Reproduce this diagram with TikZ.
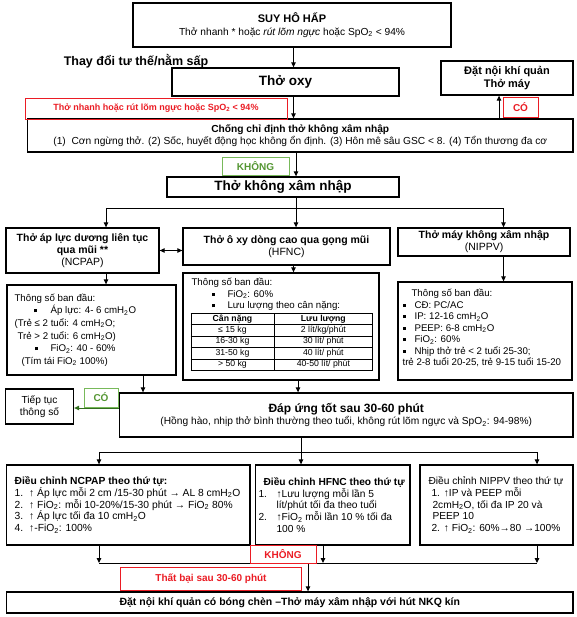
\documentclass[tikz,border=0pt]{standalone}
\usepackage{fontspec}
\setmainfont{Liberation Sans}
\usepackage{array}
\usetikzlibrary{arrows.meta}
\newcommand{\fsz}[2]{\fontsize{#1}{#2}\selectfont}
\newcommand{\bul}{\rule[1.5pt]{3pt}{3pt}}
\newcommand{\two}{\textsubscript{2}}
\definecolor{myred}{RGB}{235,28,36}
\definecolor{mygreen}{RGB}{84,150,50}
\definecolor{mygreenline}{RGB}{120,185,90}
\definecolor{mydkgreen}{RGB}{50,110,30}
\tikzset{
 box/.style={draw=black, line width=1.3pt, inner sep=0pt, align=center, font=\fsz{10.2}{12}},
 sz/.style 2 args={minimum width=#1pt, minimum height=#2pt},
 redbox/.style={draw=myred, line width=0.9pt, inner sep=0pt, text=myred, font=\bfseries\fsz{10}{12}},
 grnbox/.style={draw=mygreenline, line width=0.9pt, inner sep=0pt, text=mygreen, font=\bfseries\fsz{10}{12}},
 txt/.style={inner sep=0pt, align=left, anchor=west},
 arr/.style={line width=1pt, -{Triangle[length=5pt,width=4.5pt]}},
 darr/.style={line width=1pt, {Triangle[length=5pt,width=4.5pt]}-{Triangle[length=5pt,width=4.5pt]}},
 ln/.style={line width=1pt},
}
\begin{document}
\begin{tikzpicture}[x=1pt,y=-1pt]
\fill[white] (0,0) rectangle (576,617);
\useasboundingbox (0,0) rectangle (576,617);

% ---------- top ----------
\node[box, sz={318}{44}] (suy) at (292,25) {{\bfseries\fsz{11}{13}SUY HÔ HẤP}\\[1pt]Thở nhanh * hoặc \textit{rút lõm ngực} hoặc SpO\two{} < 94\%};
\node[font=\bfseries\fsz{12.5}{15}, inner sep=0pt] (thay) at (136,61) {Thay đổi tư thế/nằm sấp};
\node[box, sz={227}{28}, font=\bfseries\fsz{13.5}{16}] (oxy) at (285.5,82) {Thở oxy};
\node[box, sz={132}{34}, font=\bfseries\fsz{11}{13.5}] (datnoi) at (507,78) {Đặt nội khí quản\\Thở máy};
\node[box, sz={545.5}{33}] (chong) at (300.25,135.5) {{\bfseries Chống chỉ định thở không xâm nhập}\\(1)\ \ Cơn ngừng thở. (2) Sốc, huyết động học không ổn định. (3) Hôn mê sâu GSC < 8. (4) Tổn thương đa cơ};
\node[box, sz={232}{20}, font=\bfseries\fsz{13.5}{16}] (tkxn) at (283,187) {Thở không xâm nhập};

% ---------- three methods ----------
\node[box, sz={153}{45}, font=\bfseries\fsz{10.5}{12}] (ncpap) at (82.5,250.5) {Thở áp lực dương liên tục\\qua mũi **\\{\mdseries (NCPAP)}};
\node[box, sz={207}{37}, font=\bfseries\fsz{10.5}{12.5}] (hfnc) at (286.5,246.5) {Thở ô xy dòng cao qua gọng mũi\\{\mdseries (HFNC)}};
\node[box, sz={172}{28}, font=\bfseries\fsz{10.5}{12}] (nippv) at (484,242) {Thở máy không xâm nhập\\{\mdseries (NIPPV)}};

% ---------- parameter boxes ----------
\node[box, sz={169}{90}] (ncpapP) at (91.5,330) {};
\node[txt, font=\fsz{9.7}{12.6}] (ncpapPt) at ([xshift=8pt]ncpapP.west) {Thông số ban đầu:\\
\hspace*{19pt}\bul\hspace*{14pt}Áp lực: 4- 6 cmH\two O\\
(Trẻ ≤ 2 tuổi: 4 cmH\two O;\\
\hspace*{3pt}Trẻ > 2 tuổi: 6 cmH\two O)\\
\hspace*{20pt}\bul\hspace*{13pt}FiO\two: 40 - 60\%\\
\hspace*{7pt}(Tím tái FiO\two{} 100\%)};

\node[box, sz={196}{107}] (hfncP) at (281,326.5) {};
\node[txt, font=\fsz{9.7}{11.5}] (hfncPt) at ([xshift=9pt,yshift=2pt]hfncP.west) {Thông số ban đầu:\\
\hspace*{20pt}\bul\hspace*{13pt}FiO\two: 60\%\\
\hspace*{20pt}\bul\hspace*{13pt}Lưu lượng theo cân nặng:\\[1pt]
\hspace*{-1pt}{\fsz{8.7}{10.6}\setlength{\tabcolsep}{2pt}\renewcommand{\arraystretch}{1.04}\begin{tabular}{|>{\centering\arraybackslash}p{79pt}|>{\centering\arraybackslash}p{94pt}|}\hline
\textbf{Cân nặng} & \textbf{Lưu lượng}\\\hline
≤ 15 kg\hfill & 2 lít/kg/phút\\\hline
16-30 kg & 30 lít/ phút\\\hline
31-50 kg & 40 lít/ phút\\\hline
> 50 kg & 40-50 lít/ phút\\\hline
\end{tabular}}};

\node[box, sz={174}{98}] (nippvP) at (485,331) {};
\node[txt, font=\fsz{9.7}{11.5}] (nippvPt) at ([xshift=5pt,yshift=3pt]nippvP.west) {\hspace*{9pt}Thông số ban đầu:\\
\bul\hspace*{9pt}CĐ: PC/AC\\
\bul\hspace*{9pt}IP: 12-16 cmH\two O\\
\bul\hspace*{9pt}PEEP: 6-8 cmH\two O\\
\bul\hspace*{9pt}FiO\two: 60\%\\
\bul\hspace*{9pt}Nhịp thở trẻ < 2 tuổi 25-30;\\
trẻ 2-8 tuổi 20-25, trẻ 9-15 tuổi 15-20};

% ---------- response ----------
\node[box, sz={68}{35}] (tiep) at (39.5,406.5) {Tiếp tục\\thông số};
\node[box, sz={453.5}{44}] (dapung) at (346.25,415) {{\bfseries\fsz{12}{14}Đáp ứng tốt sau 30-60 phút}\\(Hồng hào, nhịp thở bình thường theo tuổi, không rút lõm ngực và SpO\two: 94-98\%)};

% ---------- adjustment boxes ----------
\node[box, sz={243.4}{80}] (adjn) at (128.3,505) {};
\node[txt, font=\fsz{10.3}{11.8}] (adjnt) at ([xshift=8.5pt]adjn.west) {\textbf{Điều chỉnh NCPAP theo thứ tự:}\\
1.\hspace*{6pt}↑ Áp lực mỗi 2 cm /15-30 phút → AL 8 cmH\two O\\
2.\hspace*{6pt}↑ FiO\two: mỗi 10-20\%/15-30 phút → FiO\two{} 80\%\\
3.\hspace*{6pt}↑ Áp lực tối đa 10 cmH\two O\\
4.\hspace*{6pt}↑-FiO\two: 100\%};

\node[box, sz={154.5}{80}] (adjh) at (332.75,505) {};
\node[txt, font=\fsz{10.2}{11.8}] (adjht) at ([xshift=3.5pt]adjh.west) {\hspace*{5pt}\textbf{Điều chỉnh HFNC theo thứ tự}\\
\makebox[18pt][l]{1.}↑Lưu lượng mỗi lần 5\\
\hspace*{18pt}lít/phút tối đa theo tuổi\\
\makebox[18pt][l]{2.}↑FiO\two{} mỗi lần 10 \% tối đa\\
\hspace*{18pt}100 \%};

\node[box, sz={153}{80}] (adjv) at (496.5,505) {};
\node[txt, font=\fsz{10.2}{11.8}] (adjvt) at ([xshift=9pt]adjv.west) {Điều chỉnh NIPPV theo thứ tự\\
\hspace*{3pt}1. ↑IP và PEEP mỗi\\
\hspace*{4pt}2cmH\two O, tối đa IP 20 và\\
\hspace*{4pt}PEEP 10\\
\hspace*{3pt}2. ↑ FiO\two: 60\%→80 →100\%};

\node[box, sz={566.4}{21}, font=\bfseries\fsz{10.5}{12}] (final) at (289.8,602.5) {Đặt nội khí quản có bóng chèn –Thở máy xâm nhập với hút NKQ kín};

% ---------- connectors ----------
\coordinate (xa) at (293.5,0);
\coordinate (xb) at (499,0);
\coordinate (xc) at (296,0);
\coordinate (xd) at (106,0);
\coordinate (xe) at (143,0);
\coordinate (xf) at (298,0);
\coordinate (yg) at (0,408);
\coordinate (ja) at (296,209);
\coordinate (jaL) at (106,209);
\coordinate (jaR) at (503.5,209);
\coordinate (jb) at (301,452);
\coordinate (jbL) at (99,452);
\coordinate (jbR) at (537,452);
\coordinate (jcL) at (99,563);
\coordinate (jcM) at (323,563);
\coordinate (jcR) at (537,563);
\coordinate (jcO) at (308,563);

\draw[arr] (suy.south -| xa) -- (oxy.north -| xa);
\draw[arr] (oxy.south -| xa) -- (chong.north -| xa);
\draw[arr] (chong.north -| xb) -- (datnoi.south -| xb);
\draw[arr] (chong.south -| xc) -- (tkxn.north -| xc);
\draw[ln] (tkxn.south -| ja) -- (ja);
\draw[ln] (jaL) -- (jaR);
\draw[arr] (jaL) -- (jaL |- ncpap.north);
\draw[arr] (ja) -- (ja |- hfnc.north);
\draw[arr] (jaR) -- (jaR |- nippv.north);
\draw[darr] (ncpap.east) -- (ncpap.east -| hfnc.west);
\draw[arr] (ncpap.south -| xd) -- (ncpapP.north -| xd);
\draw[arr] (hfnc.south -| xa) -- (hfncP.north -| xa);
\draw[arr] (nippv.south -| jaR) -- (nippvP.north -| jaR);
\draw[arr] (ncpapP.south -| xe) -- (dapung.north -| xe);
\draw[arr] (hfncP.south -| xf) -- (dapung.north -| xf);
\draw[arr, draw=mydkgreen, fill=mydkgreen] (dapung.west |- yg) -- (tiep.east |- yg);
\draw[ln] (dapung.south -| jb) -- (jb);
\draw[ln] (jbL) -- (jbR);
\draw[arr] (jbL) -- (jbL |- adjn.north);
\draw[arr] (jb) -- (jb |- adjh.north);
\draw[arr] (jbR) -- (jbR |- adjv.north);
\draw[arr] (adjn.south -| jcL) -- (jcL);
\draw[arr] (adjh.south -| jcM) -- (jcM);
\draw[arr] (adjv.south -| jcR) -- (jcR);
\draw[ln] (jcL) -- (jcR);
\draw[arr] (jcO) -- (jcO |- final.north);

% ---------- labels ----------
\node[redbox, sz={262}{21}, font=\bfseries\fsz{9}{11}] (reda) at (156,108.5) {Thở nhanh hoặc rút lõm ngực hoặc SpO\two{} < 94\%};
\node[redbox, sz={35}{20}] (coa) at (520.5,107) {CÓ};
\node[grnbox, sz={67}{18}] (khong1) at (255.5,166) {KHÔNG};
\node[grnbox, sz={34}{19}] (cob) at (101,397.5) {CÓ};
\node[redbox, sz={66}{18}] (khong2) at (283,554) {KHÔNG};
\node[redbox, sz={181}{23}] (thatbai) at (211,578.5) {Thất bại sau 30-60 phút};
\end{tikzpicture}
\end{document}
